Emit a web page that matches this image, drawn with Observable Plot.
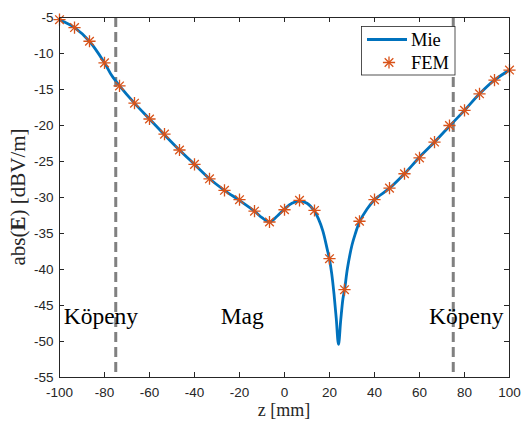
<!DOCTYPE html>
<html><head><meta charset="utf-8">
<script src="https://cdn.jsdelivr.net/npm/d3@7"></script>
<script src="https://cdn.jsdelivr.net/npm/@observablehq/plot@0.6"></script>
<style>html,body{margin:0;padding:0;background:#fff} svg{display:block}</style>
</head><body><div id="chart"></div>
<script>
// Mie (analytic) curve
const mieZ = [-100,-93.3,-86.7,-80,-76.7,-73.3,-66.7,-60,-53.3,-46.7,-40,-33.3,-26.7,-20,-13.3,-10,-6.7,-3.3,0,3.3,6.7,10,13.3,15,17,19,20,21,22,23,24,25,26,26.7,28,30,31.5,33.3,36.7,40,46.7,53.3,60,66.7,73.3,80,86.7,93.3,100];
const mieE = [-5.3,-6.4,-8.3,-11.3,-13.1,-14.5,-16.9,-19.1,-21.3,-23.4,-25.4,-27.4,-29.0,-30.4,-31.9,-32.8,-33.4,-32.6,-31.6,-30.8,-30.5,-30.8,-31.9,-32.9,-34.6,-37.2,-38.6,-40.6,-43.4,-46.8,-50.4,-47.0,-44.0,-42.8,-39.8,-36.6,-35.0,-33.4,-31.6,-30.3,-28.7,-26.7,-24.4,-22.3,-20.1,-17.9,-15.6,-13.7,-12.3];
// FEM samples
const femZ = [-100,-93.33,-86.67,-80,-73.33,-66.67,-60,-53.33,-46.67,-40,-33.33,-26.67,-20,-13.33,-6.67,0,6.67,13.33,20,26.67,33.33,40,46.67,53.33,60,66.67,73.33,80,86.67,93.33,100];
const femE = [-5.3,-6.4,-8.3,-11.3,-14.5,-16.9,-19.1,-21.2,-23.4,-25.4,-27.4,-29.0,-30.3,-31.9,-33.4,-31.7,-30.4,-31.8,-38.5,-42.8,-33.3,-30.3,-28.7,-26.7,-24.5,-22.3,-20.0,-17.9,-15.6,-13.7,-12.3];
const xTicks = [-100,-80,-60,-40,-20,0,20,40,60,80,100];
const yTicks = [-55,-50,-45,-40,-35,-30,-25,-20,-15,-10,-5];
const boundaryZ = [-75, 75];
const regionZ = [-81.6, -18.8, 80.8];
const regionE = [-46.5, -46.5, -46.5];
const regionNames = ["Köpeny", "Mag", "Köpeny"];
const seriesNames = ["Mie", "FEM"];

const mie = mieZ.map((z, i) => ({z, e: mieE[i]}));
const fem = femZ.map((z, i) => ({z, e: femE[i]}));
const regions = regionZ.map((z, i) => ({z, e: regionE[i], name: regionNames[i]}));

const W = 530, H = 425, M = {top: 17, right: 21, bottom: 48, left: 59};
const pw = W - M.left - M.right, ph = H - M.top - M.bottom;
const BLUE = "#0072BD", ORANGE = "#D95319", AX = "#262626";
const SERIF = "Liberation Serif, Times New Roman, serif";

const chart = Plot.plot({
  width: W, height: H,
  marginTop: M.top, marginRight: M.right, marginBottom: M.bottom, marginLeft: M.left,
  style: {background: "#fff", fontFamily: "Liberation Sans, Arial, sans-serif", color: AX},
  x: {domain: [-100, 100]},
  y: {domain: [-55, -5]},
  marks: [
    Plot.ruleX(boundaryZ, {x: d => d, stroke: "#808080", strokeWidth: 3, strokeDasharray: "10,5"}),
    Plot.line(mie, {x: "z", y: "e", stroke: BLUE, strokeWidth: 2.8, curve: "catmull-rom"}),
    Plot.dot(fem, {x: "z", y: "e", symbol: "plus", r: 4, stroke: ORANGE, fill: "none", strokeWidth: 1.3}),
    Plot.dot(fem, {x: "z", y: "e", symbol: "times", r: 4, stroke: ORANGE, fill: "none", strokeWidth: 1.3}),
    Plot.text(regions, {x: "z", y: "e", text: "name", fontSize: 23.5, fontFamily: SERIF, fill: "#000", ariaLabel: "region-labels"}),
    Plot.frame({stroke: AX, strokeWidth: 1}),
    Plot.ruleX(xTicks, {x: d => d, insetTop: ph - 5, stroke: AX}),
    Plot.ruleX(xTicks, {x: d => d, insetBottom: ph - 5, stroke: AX}),
    Plot.ruleY(yTicks, {y: d => d, insetRight: pw - 5, stroke: AX}),
    Plot.ruleY(yTicks, {y: d => d, insetLeft: pw - 5, stroke: AX}),
    Plot.axisX({ticks: xTicks, tickSize: 0, tickPadding: 10, tickFormat: d => String(d), fontSize: 13.5, fill: AX, label: null}),
    Plot.axisY({ticks: yTicks, tickSize: 0, tickPadding: 6, tickFormat: d => String(d), fontSize: 13.5, fill: AX, label: null})
  ]
});
document.getElementById("chart").appendChild(chart);

const svgns = "http://www.w3.org/2000/svg";
const svg = d3.select(chart.tagName.toLowerCase() === "svg" ? chart : chart.querySelector("svg"));

// white background boxes behind region labels
svg.selectAll('g[aria-label="region-labels"] text').each(function () {
  const b = this.getBBox();
  const r = document.createElementNS(svgns, "rect");
  r.setAttribute("x", b.x - 4);
  r.setAttribute("y", b.y - 6);
  r.setAttribute("width", b.width + 8);
  r.setAttribute("height", b.height + 12);
  r.setAttribute("fill", "#fff");
  const t = this.getAttribute("transform");
  if (t) r.setAttribute("transform", t);
  this.parentNode.insertBefore(r, this);
});

// axis titles
svg.append("text").attr("x", M.left + pw / 2).attr("y", 416)
  .attr("text-anchor", "middle").attr("font-family", SERIF).attr("font-size", 18).attr("fill", AX)
  .text("z [mm]");
const yl = svg.append("text").attr("transform", `translate(25,${M.top + ph / 2}) rotate(-90)`)
  .attr("text-anchor", "middle").attr("font-family", SERIF).attr("font-size", 21).attr("fill", AX);
yl.append("tspan").text("abs(");
yl.append("tspan").attr("font-weight", "bold").text("E");
yl.append("tspan").text(") [dBV/m]");

// legend
const lg = svg.append("g").attr("text-anchor", "start");
lg.append("rect").attr("x", 361.5).attr("y", 26.5).attr("width", 93.5).attr("height", 48.5)
  .attr("fill", "#fff").attr("stroke", AX).attr("stroke-width", 0.8);
lg.append("line").attr("x1", 367).attr("x2", 407).attr("y1", 39.5).attr("y2", 39.5)
  .attr("stroke", BLUE).attr("stroke-width", 2.8);
lg.append("text").attr("x", 411).attr("y", 45.5).attr("text-anchor", "start").attr("font-family", SERIF).attr("font-size", 18.5).attr("fill", "#000").text(seriesNames[0]);
const sz = Math.PI * 16;
lg.append("path").attr("transform", "translate(389,62.5)").attr("d", d3.symbol(d3.symbolPlus, sz)())
  .attr("stroke", ORANGE).attr("fill", "none").attr("stroke-width", 1.3);
lg.append("path").attr("transform", "translate(389,62.5)").attr("d", d3.symbol(d3.symbolTimes, sz)())
  .attr("stroke", ORANGE).attr("fill", "none").attr("stroke-width", 1.3);
lg.append("text").attr("x", 411).attr("y", 68.5).attr("text-anchor", "start").attr("font-family", SERIF).attr("font-size", 18.5).attr("fill", "#000").text(seriesNames[1]);
</script>
</body></html>
